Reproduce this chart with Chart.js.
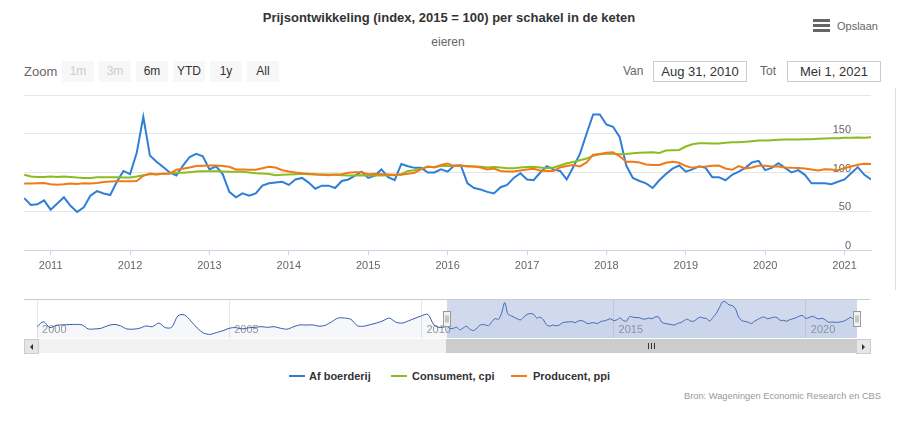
<!DOCTYPE html>
<html>
<head>
<meta charset="utf-8">
<script src="https://cdn.jsdelivr.net/npm/chart.js@4.4.1/dist/chart.umd.min.js"></script>
<style>
  body { margin:0; background:#fff; font-family:'Liberation Sans', Arial, sans-serif; }
  #wrap { position:relative; width:898px; height:425px; overflow:hidden; }
  .a { position:absolute; white-space:nowrap; }
  #title { left:0; width:898px; top:10px; line-height:16px; text-align:center; font-weight:bold; font-size:13px; color:#333; }
  #subtitle { left:0; width:896px; top:35px; line-height:14px; text-align:center; font-size:12px; color:#666; }
  .bar { position:absolute; left:813px; width:17px; height:3px; background:#666; }
  #menu { left:837px; top:19px; line-height:14px; font-size:11px; color:#666; }
  .lbl { top:64px; line-height:15px; font-size:12px; color:#666; }
  .btn { position:absolute; top:61px; width:32px; height:21px; line-height:21px; background:#f7f7f7; text-align:center; font-size:12px; color:#333; }
  .btn.off { color:#ccc; }
  .inp { position:absolute; top:61px; width:92px; height:19px; line-height:19px; border:1px solid #ccc; text-align:center; font-size:13px; color:#333; }
  canvas { position:absolute; left:0; }
  .sym { position:absolute; top:375px; width:16px; height:2px; }
  .leg { top:369px; line-height:14px; font-size:11px; font-weight:bold; color:#333; }
  #credits { right:17px; top:390px; line-height:12px; font-size:9.3px; color:#999; }
  #track { left:24px; top:339px; width:846px; height:14px; background:#f2f2f2; }
  #thumb { left:446px; top:339px; width:410px; height:13px; background:#ccc; border-bottom:1px solid #ccc; }
  .rifle { position:absolute; top:343px; width:1px; height:6px; background:#333; }
  .sbtn { position:absolute; top:339px; width:13px; height:13px; background:#e6e6e6; border:1px solid #ccc; }
  .arrL { position:absolute; left:5px; top:4px; width:0; height:0; border-top:3px solid transparent; border-bottom:3px solid transparent; border-right:3px solid #333; }
  .arrR { position:absolute; left:5px; top:4px; width:0; height:0; border-top:3px solid transparent; border-bottom:3px solid transparent; border-left:3px solid #333; }
  #edge { position:absolute; left:895px; top:88px; width:1px; height:202px; background:#ddd; }
</style>
</head>
<body>
<div id="wrap">
  <div id="title" class="a">Prijsontwikkeling (index, 2015 = 100) per schakel in de keten</div>
  <div id="subtitle" class="a">eieren</div>
  <div class="bar" style="top:19px"></div>
  <div class="bar" style="top:24px"></div>
  <div class="bar" style="top:29px"></div>
  <div id="menu" class="a">Opslaan</div>

  <div class="a lbl" style="left:24px;font-size:13px">Zoom</div>
  <div class="btn off" style="left:62px">1m</div>
  <div class="btn off" style="left:99px">3m</div>
  <div class="btn" style="left:136px">6m</div>
  <div class="btn" style="left:173px">YTD</div>
  <div class="btn" style="left:210px">1y</div>
  <div class="btn" style="left:247px">All</div>
  <div class="a lbl" style="left:623px">Van</div>
  <div class="inp" style="left:653px">Aug 31, 2010</div>
  <div class="a lbl" style="left:760px">Tot</div>
  <div class="inp" style="left:787px">Mei 1, 2021</div>

  <canvas id="main" width="898" height="285" style="top:0;width:898px;height:285px"></canvas>
  <canvas id="nav" width="898" height="50" style="top:290px;width:898px;height:50px"></canvas>
  <div id="edge"></div>

  <div id="track" class="a"></div>
  <div id="thumb" class="a"></div>
  <div class="rifle" style="left:648px"></div>
  <div class="rifle" style="left:651px"></div>
  <div class="rifle" style="left:654px"></div>
  <div class="sbtn" style="left:24px"><div class="arrL"></div></div>
  <div class="sbtn" style="left:856px"><div class="arrR"></div></div>

  <div class="sym" style="left:289px;background:#2f7ed8"></div>
  <div class="a leg" style="left:309px">Af boerderij</div>
  <div class="sym" style="left:391px;background:#8bbc21"></div>
  <div class="a leg" style="left:412px">Consument, cpi</div>
  <div class="sym" style="left:511px;background:#f07a17"></div>
  <div class="a leg" style="left:533px">Producent, ppi</div>
  <div id="credits" class="a">Bron: Wageningen Economic Research en CBS</div>
</div>
<script>
// monthly values, Sep 2010 .. May 2021
const boerderij = [67,58,59,64,
  52,60,68,57,49,55,70,76,73,71,88,102,
  98,125,172,122,114,107,100,96,109,120,124,121,
  104,108,98,75,68,73,70,73,83,86,87,88,
  84,91,93,87,79,83,83,80,89,91,96,101,
  93,96,104,94,90,111,108,106,106,100,100,104,
  101,109,109,86,80,78,75,73,81,84,93,99,
  91,90,100,108,104,102,91,107,124,150,175,175,
  162,159,146,109,93,89,86,80,90,98,105,109,
  101,104,108,106,94,94,90,97,101,106,113,115,
  103,106,112,106,100,103,97,86,86,86,85,88,
  91,99,107,97,91];
const consument = [97,94.8,94.3,94.3,
  94.8,94.3,94.8,94.3,93.5,93,93,93.9,93.9,93.9,93.9,93.5,
  93.5,94.8,96.5,97.8,97.8,98.3,98.7,99.6,99.6,100.4,101.3,101.7,
  101.7,101.7,101.3,100.9,100.9,101,100,99,98.7,98,96.5,97,
  97.4,97.8,98.3,97.8,97.8,97.4,97.4,97,96.5,96,96,96.5,
  96,96,96,96.5,96.5,97.8,102,103,105,107.4,107,108.3,
  108.7,108.3,108.7,108.3,107.8,107.4,106.5,107,106.5,105.6,105.6,106.5,
  107,107.4,106.5,105.6,106.5,109,112,113.5,115.7,118,121.7,123.5,
  124.3,124.3,123.5,124,124.8,125.5,125.7,126,125.2,128.3,128.7,129.1,
  133.5,136.5,137.8,137.8,137.4,137.4,138.3,139.1,139.1,139.6,140.4,141.3,
  141.3,141.7,142.2,142.6,142.6,142.6,143,143,143.5,143.9,144.3,144.3,
  144.8,144.8,145.2,144.8,145.6];
const producent = [85.7,85.7,86.1,86.5,
  84.8,84.3,84.8,85.7,85.2,86.1,85.7,86.5,87.8,88.3,88.7,88.7,
  88.7,89,95.7,98.7,97.4,98.3,98.7,103.5,104.8,106.5,108.3,108.7,
  109,109,108.3,107.4,104,104,103.5,103.5,105.6,107.4,106.5,103,
  101.3,100,99,98.3,97.4,97,96.5,97.4,97.8,99.6,100.4,100.4,
  97.8,98.3,97.8,97.4,97,97,98.3,99.6,104,107.8,106.5,109.6,
  111.7,108.3,109,107.8,107.8,106.5,104,105.2,102,101.3,101.3,102.6,
  104,104.8,102.6,102,102,106.5,108.3,109.6,107.8,113,123,124,
  125.6,126,121,114,114,113,110.4,109.6,109.6,112.6,113.9,112.6,
  108.3,106,107.4,107.8,108.7,109,105.2,103.5,108.3,105.2,106.5,108.7,
  108.7,107.8,107.8,106.5,106,105.7,105.2,104,102.6,104.3,104,103,
  105.7,107.8,110,111.3,110.9];
// navigator history, every second month Jan 2000 .. Jul 2010
const navHistory = [66,88,62,72,74,75, 76,74,56,56,59,70, 76,70,56,55,59,69,
  66,82,62,63,114,118, 91,60,38,32,40,48, 59,62,56,61,63,66,
  63,66,59,55,65,74, 73,74,68,72,88,104, 104,98,70,68,75,82,
  92,104,86,82,92,103, 114,120,72,62];
const yearTicks = [2011,2012,2013,2014,2015,2016,2017,2018,2019,2020,2021];
const navYearTicks = [2000,2005,2010,2015,2020];
const yTicks = [0,50,100,150,200];
const viewMin = 2010.664, viewMax = 2021.333;   // Aug 31, 2010 .. Mei 1, 2021

Chart.defaults.font.family = "'Liberation Sans', Arial, sans-serif";

const monthX = i => 2010 + (8 + i) / 12;
const pts = arr => arr.map((v, i) => ({x: monthX(i), y: v}));

function line(label, arr, color, order){
  return { label, data: pts(arr), borderColor: color, backgroundColor: color,
           borderWidth: 2, pointRadius: 0, tension: 0, order };
}

new Chart(document.getElementById('main'), {
  type: 'line',
  data: { datasets: [
    line('Af boerderij', boerderij, '#2f7ed8', 2),
    line('Consument, cpi', consument, '#8bbc21', 1),
    line('Producent, ppi', producent, '#f07a17', 0)
  ]},
  options: {
    responsive: false, animation: false, devicePixelRatio: 1,
    layout: { padding: { left: 24, right: 27, top: 95, bottom: 0 } },
    plugins: { legend: { display: false }, tooltip: { enabled: false } },
    scales: {
      x: { type: 'linear', min: viewMin, max: viewMax,
        afterBuildTicks: s => { s.ticks = yearTicks.map(v => ({value: v})); },
        afterFit: s => { s.height = 35; },
        grid: { drawOnChartArea: false, drawTicks: true, tickLength: 5, color: '#ccd6eb' },
        border: { color: '#ccd6eb' },
        ticks: { color: '#666', font: { size: 11 }, padding: 4, maxRotation: 0, autoSkip: false,
                 callback: v => String(v) } },
      y: { position: 'right', min: 0, max: 200,
        afterBuildTicks: s => { s.ticks = yTicks.map(v => ({value: v})); },
        afterFit: s => { s.width = 0; },
        grid: { color: '#e6e6e6', drawTicks: false },
        border: { display: false },
        ticks: { mirror: true, padding: -20, labelOffset: -4, color: '#666', font: { size: 11 },
                 callback: v => v === 200 ? '' : String(v) } }
    }
  }
});

// navigator: selection mask, outline and handles
const navOverlay = {
  id: 'navOverlay',
  afterDatasetsDraw(chart){
    const {ctx, chartArea: a, scales: {x}} = chart;
    const x1 = x.getPixelForValue(viewMin), x2 = x.getPixelForValue(viewMax);
    ctx.save();
    ctx.fillStyle = 'rgba(102,133,194,0.3)';
    ctx.fillRect(x1, a.top, x2 - x1, a.bottom - a.top);
    ctx.strokeStyle = '#cccccc'; ctx.lineWidth = 1;
    ctx.beginPath(); ctx.moveTo(a.left, a.top + 0.5); ctx.lineTo(a.right, a.top + 0.5); ctx.stroke();
    [x1, x2].forEach(px => {
      const hx = Math.round(px) - 4 + 0.5, hy = a.top + 12 + 0.5;
      ctx.fillStyle = '#f2f2f2'; ctx.fillRect(hx, hy, 7, 15);
      ctx.strokeStyle = '#999'; ctx.strokeRect(hx, hy, 7, 15);
      ctx.beginPath();
      ctx.moveTo(hx + 2.5, hy + 4); ctx.lineTo(hx + 2.5, hy + 11);
      ctx.moveTo(hx + 4.5, hy + 4); ctx.lineTo(hx + 4.5, hy + 11);
      ctx.stroke();
    });
    ctx.restore();
  }
};

const navData = navHistory.map((v, i) => ({x: 2000 + i / 6, y: v})).concat(pts(boerderij));

new Chart(document.getElementById('nav'), {
  type: 'line',
  data: { datasets: [{ data: navData, borderColor: '#335cad', borderWidth: 1,
    backgroundColor: 'rgba(51,92,173,0.05)', fill: 'start', pointRadius: 0, tension: 0.3 }] },
  options: {
    responsive: false, animation: false, devicePixelRatio: 1,
    layout: { padding: { left: 24, right: 28, top: 9, bottom: 2 } },
    plugins: { legend: { display: false }, tooltip: { enabled: false } },
    scales: {
      x: { type: 'linear', min: 1999.66, max: 2021.67,
        afterBuildTicks: s => { s.ticks = navYearTicks.map(v => ({value: v})); },
        afterFit: s => { s.height = 0; },
        grid: { color: '#e6e6e6', drawTicks: false },
        border: { display: false },
        ticks: { mirror: true, align: 'start', labelOffset: 5, padding: 1, color: '#999',
                 font: { size: 11 }, maxRotation: 0, autoSkip: false, callback: v => String(v) } },
      y: { display: false, min: 16, max: 188 }
    }
  },
  plugins: [navOverlay]
});
</script>
</body>
</html>
